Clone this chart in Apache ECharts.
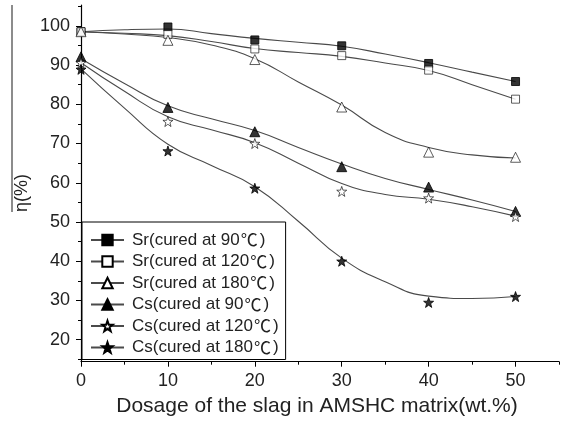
<!DOCTYPE html>
<html><head><meta charset="utf-8">
<script src="https://cdn.jsdelivr.net/npm/echarts@6/dist/echarts.min.js"></script>
<style>html,body{margin:0;padding:0;background:#fff}#c{width:565px;height:424px}</style>
</head><body><div id="c"></div>
<script>
const xValues = [0, 10, 20, 30, 40, 50];
const seriesNames = ['Sr(cured at 90℃)', 'Sr(cured at 120℃)', 'Sr(cured at 180℃)', 'Cs(cured at 90℃)', 'Cs(cured at 120℃)', 'Cs(cured at 180℃)'];
// measured points
const sr90 = [98.5, 99.7, 96.4, 94.9, 90.4, 85.8];
const sr120 = [98.5, 97.8, 94.1, 92.4, 88.7, 81.3];
const sr180 = [98.5, 96.3, 91.4, 79.3, 67.8, 66.5];
const cs90 = [92.1, 79.2, 73.0, 64.1, 58.9, 52.7];
const cs120 = [90.6, 75.6, 70.0, 57.8, 56.1, 51.4];
const cs180 = [88.9, 68.1, 58.6, 40.0, 29.5, 31.0];
// fitted curves (at these x positions)
const fitX = [0, 5, 10, 15, 20, 25, 30, 35, 40, 45, 50];
const sr90Fit = [98.5, 99.0, 99.2, 98.0, 96.8, 95.8, 94.8, 92.8, 90.6, 88.2, 85.8];
const sr120Fit = [98.5, 98.1, 97.5, 96.0, 94.2, 93.2, 92.2, 90.5, 88.6, 85.0, 81.3];
const sr180Fit = [98.5, 97.9, 97.0, 95.1, 91.6, 85.7, 79.8, 72.8, 69.0, 67.1, 66.3];
const cs90Fit = [91.6, 85.3, 79.6, 76.3, 73.3, 69.0, 64.8, 61.1, 58.3, 55.6, 52.7];
const cs120Fit = [90.6, 83.3, 76.8, 73.5, 70.2, 65.0, 59.8, 57.0, 55.8, 53.9, 51.5];
const cs180Fit = [89.0, 79.0, 69.8, 64.4, 59.0, 50.2, 40.8, 34.8, 31.1, 30.5, 31.0];
const yTickLabels = [20, 30, 40, 50, 60, 70, 80, 90, 100];
const yMinorTicks = [15, 25, 35, 45, 55, 65, 75, 85, 95, 105];
const xTickLabels = [0, 10, 20, 30, 40, 50];
const xMinorTicks = [5, 15, 25, 35, 45, 55];

const star = 'path://M0,-10 L2.35,-3.24 L9.51,-3.09 L3.8,1.24 L5.88,8.09 L0,4 L-5.88,8.09 L-3.8,1.24 L-9.51,-3.09 L-2.35,-3.24 Z';
const pts = [sr90, sr120, sr180, cs90, cs120, cs180];
const fits = [sr90Fit, sr120Fit, sr180Fit, cs90Fit, cs120Fit, cs180Fit];
const syms = ['rect', 'rect', 'triangle', 'triangle', star, star];
const sizes = [8, 8, 10, 10, 10, 10];
const filled = [true, false, false, true, false, true];
const FONT = 'Arial, "Liberation Sans", "Noto Sans CJK SC", sans-serif';

const series = [];
pts.forEach((p, i) => {
  const itemStyle = filled[i] ? {color: '#000', borderColor: '#000', borderWidth: 1}
                              : {color: '#fff', borderColor: '#000', borderWidth: 0.8};
  series.push({
    name: seriesNames[i], type: 'line', smooth: 0.5, showSymbol: false,
    symbol: syms[i], symbolSize: sizes[i],
    data: fitX.map((x, k) => [x, fits[i][k]]),
    lineStyle: {color: '#4a4a4a', width: 1.1},
    itemStyle: itemStyle, z: 2, silent: true
  });
  series.push({
    name: seriesNames[i], type: 'scatter', symbol: syms[i], symbolSize: sizes[i],
    data: xValues.map((x, k) => [x, p[k]]),
    itemStyle: itemStyle, z: 3, clip: false
  });
});

const chart = echarts.init(document.getElementById('c'), null, {renderer: 'canvas'});
chart.setOption({
  animation: false,
  backgroundColor: '#fff',
  grid: {left: 81, right: 6, top: 5, bottom: 62.3, containLabel: false},
  xAxis: [{
    type: 'value', min: 0, max: 55, position: 'bottom',
    axisLine: {show: true, lineStyle: {color: '#000', width: 1.2}},
    axisTick: {show: true, inside: false, length: 5, customValues: xTickLabels, lineStyle: {color: '#000'}},
    axisLabel: {customValues: xTickLabels, fontSize: 18, color: '#222', fontFamily: FONT, margin: 10},
    splitLine: {show: false},
    name: 'Dosage of the slag in AMSHC matrix(wt.%)', nameLocation: 'middle', nameGap: 34,
    nameTextStyle: {fontSize: 21, color: '#222', fontFamily: FONT, padding: [0, 6, 0, 0]}
  }, {
    type: 'value', min: 0, max: 55, position: 'bottom', gridIndex: 0,
    axisLine: {show: false}, axisLabel: {show: false}, splitLine: {show: false},
    axisTick: {show: true, length: 3, customValues: xMinorTicks, lineStyle: {color: '#000'}}
  }],
  yAxis: [{
    type: 'value', min: 14.4, max: 105.3, position: 'left',
    axisLine: {show: true, lineStyle: {color: '#000', width: 1.2}},
    axisTick: {show: true, inside: false, length: 5, customValues: yTickLabels, lineStyle: {color: '#000'}},
    axisLabel: {customValues: yTickLabels, fontSize: 18, color: '#222', fontFamily: FONT, margin: 11},
    splitLine: {show: false}
  }, {
    type: 'value', min: 14.4, max: 105.3, position: 'left', gridIndex: 0,
    axisLine: {show: false}, axisLabel: {show: false}, splitLine: {show: false},
    axisTick: {show: true, length: 3, customValues: yMinorTicks, lineStyle: {color: '#000'}}
  }],
  legend: {
    data: seriesNames, orient: 'vertical', left: 82, top: 222,
    padding: [9, 7, 3, 8], itemWidth: 33, itemHeight: 13, itemGap: 3.5,
    borderColor: '#000', borderWidth: 1, backgroundColor: '#fff',
    selectedMode: false,
    formatter: name => name.replace('℃', '{c|℃}'),
    textStyle: {fontSize: 17, color: '#222', fontFamily: FONT, lineHeight: 18, padding: [0, 0, 0, 3],
      rich: {c: {fontSize: 17, fontFamily: '"Noto Sans CJK SC"', color: '#222', lineHeight: 18, padding: [0, 2, 0, 1]}}}
  },
  graphic: [
    {type: 'text', x: 22, y: 193, rotation: Math.PI / 2,
     style: {text: 'η(%)', font: '18px ' + FONT, fill: '#222', align: 'center', verticalAlign: 'middle'}},
    {type: 'line', shape: {x1: 12, y1: 5, x2: 12, y2: 212}, style: {stroke: '#666', lineWidth: 1.5}}
  ],
  series: series
});
</script></body></html>
